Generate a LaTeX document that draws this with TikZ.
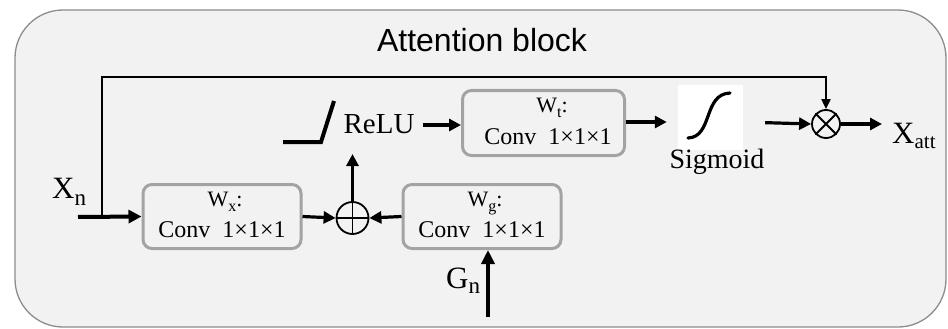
\documentclass[tikz,border=0pt]{standalone}
\usepackage{fontspec}
\setmainfont{Liberation Serif}
\setsansfont{Liberation Sans}
\usetikzlibrary{arrows.meta}
\definecolor{bgc}{HTML}{F2F2F2}
\definecolor{bordc}{HTML}{8C8C8C}
\definecolor{boxc}{HTML}{A3A3A3}
\tikzset{
  convbox/.style={draw=boxc, fill=bgc, line width=3pt, rounded corners=9pt, minimum width=158pt, minimum height=64pt, inner sep=0pt},
  wlab/.style={font=\fontsize{22}{26}\selectfont, anchor=base, inner sep=0pt},
  clab/.style={font=\fontsize{24}{28}\selectfont, anchor=base, inner sep=0pt},
  biglab/.style={font=\fontsize{31}{36}\selectfont, anchor=base west, inner sep=0pt},
  midlab/.style={font=\fontsize{29}{33}\selectfont, anchor=base, inner sep=0pt},
  arr/.style={line width=3.2pt, -{Triangle[length=12pt,width=12pt]}},
  thinarr/.style={line width=2pt, -{Triangle[length=10pt,width=9pt]}},
  opcirc/.style={circle, draw=black, line width=1.8pt, inner sep=0pt},
}
\newcommand{\cnvtext}{Conv\ \ 1×1×1}
\newcommand{\lsub}[3]{\raisebox{-#2}{\fontsize{#1}{#1}\selectfont #3}}
\begin{document}
\begin{tikzpicture}[x=1pt,y=-1pt]
\useasboundingbox (0,0) rectangle (948,329);
\draw[draw=bordc, fill=bgc, line width=1.3pt, rounded corners=48pt] (15,10) rectangle (946,327);
\node[font=\sffamily\fontsize{32}{36}\selectfont, anchor=base, inner sep=0pt] (title) at (482,52) {Attention block};

% boxes
\node[convbox] (wx) at (222,216.5) {};
\node[wlab] (wxw) at (225,206) {W\lsub{16pt}{5pt}{x}:};
\node[clab] (wxc) at (222,237) {\cnvtext};

\node[convbox] (wg) at (482,216.5) {};
\node[wlab] (wgw) at (485,206) {W\lsub{16pt}{5pt}{g}:};
\node[clab] (wgc) at (482,237) {\cnvtext};

\node[convbox, minimum width=162pt, minimum height=65pt] (wt) at (543.5,123) {};
\node[wlab] (wtw) at (552,113) {W\lsub{16pt}{5pt}{t}:};
\node[clab] (wtc) at (548,144) {\cnvtext};

% operators
\node[opcirc, minimum size=32pt] (op) at (352.5,218) {};
\draw[line width=1.8pt] (op.north) -- (op.south) (op.west) -- (op.east);
\node[opcirc, minimum size=28pt] (ot) at (826,124) {};
\draw[line width=1.8pt] (ot.north west) -- (ot.south east) (ot.north east) -- (ot.south west);

% ReLU
\node[midlab] (relu) at (379,133) {ReLU};
\coordinate (rl0) at (283,142);
\coordinate (rl1) at (321,142);
\coordinate (rl2) at (334,101);
\draw[line width=4pt, line join=miter] (rl0) -- (rl1) -- (rl2);

% Sigmoid
\node[fill=white, minimum width=65pt, minimum height=65pt, inner sep=0pt] (sig) at (710.5,117.5) {};
\draw[line width=3.2pt, line cap=round] (688,138) .. controls (713,137) and (703,94) .. (730,93);
\node[midlab, font=\fontsize{28}{32}\selectfont] (siglab) at (717,168) {Sigmoid};

% labels
\node[biglab] (xn) at (52,198) {X\lsub{23pt}{7pt}{n}};
\node[biglab] (gn) at (446,288) {G\lsub{23pt}{5pt}{n}};
\node[biglab] (xatt) at (892,143) {X\lsub{21pt}{5pt}{att}};

% connectors
\coordinate (xin) at (78,217);
\coordinate (br) at (102,217);
\coordinate (top) at (102,77);
\coordinate (gin) at (488,317);
\draw[line width=4pt, -{Triangle[length=13pt,width=13pt]}] (xin) -- (wx.west);
\draw[thinarr] (br) -- (top) -| (ot.north);
\draw[arr] (wx.east) -- (op.west);
\draw[arr] (wg.west) -- (op.east);
\draw[line width=4.5pt, -{Triangle[length=14pt,width=13pt]}] (gin) -- (gin |- wg.south);
\draw[arr, shorten >=2pt] (op.north) -- (352.5,152);
\draw[arr, shorten <=8pt] (relu.east |- 0,125) -- (wt.west |- 0,125);
\draw[arr, shorten >=11pt] (wt.east |- 0,122) -- (sig.west |- 0,122);
\draw[arr, shorten <=22pt] (sig.east |- 0,122) -- (ot.west);
\draw[arr, shorten >=10pt] (ot.east) -- (xatt.west |- ot.east);
\end{tikzpicture}
\end{document}
